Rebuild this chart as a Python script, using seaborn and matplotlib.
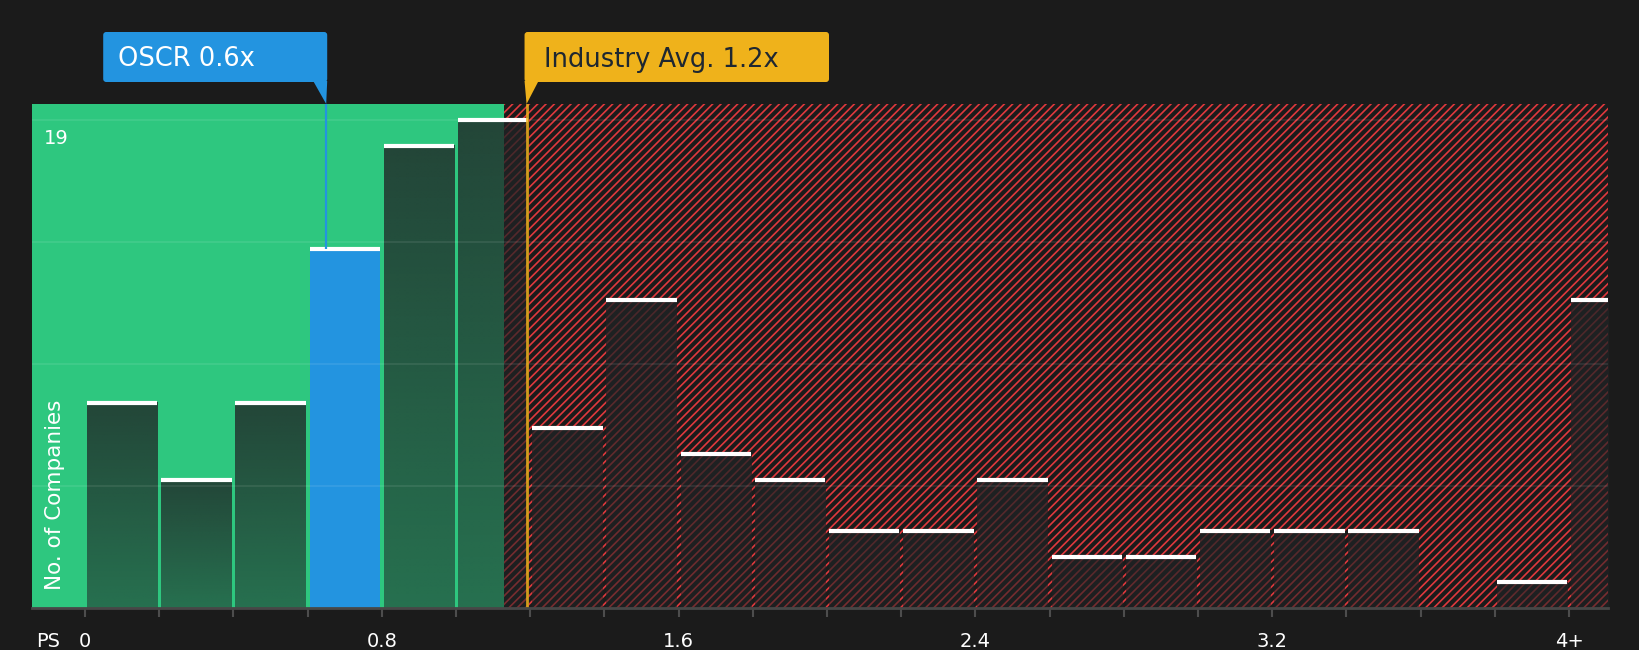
import numpy as np
import pandas as pd
import matplotlib
matplotlib.use("Agg")
import matplotlib.pyplot as plt
import seaborn as sns
from matplotlib.patches import FancyBboxPatch, Polygon
from matplotlib.transforms import IdentityTransform

# ---------------- data ----------------
bin_starts = [0.0, 0.2, 0.4, 0.6, 0.8, 1.0, 1.2, 1.4, 1.6, 1.8, 2.0,
              2.2, 2.4, 2.6, 2.8, 3.0, 3.2, 3.4, 3.6, 3.8, 4.0]
counts = [8, 5, 8, 14, 18, 19, 7, 12, 6, 5, 3, 3, 5, 2, 2, 3, 3, 3, 0, 1, 12]
bin_width = 0.2

company_name = "OSCR"
company_label = "OSCR 0.6x"
company_value = 0.65
company_bin = 0.6
industry_label = "Industry Avg. 1.2x"
industry_avg = 1.19
fair_end = 1.13

x_tick_values = [0.0, 0.8, 1.6, 2.4, 3.2, 4.0]
x_tick_labels = ["0", "0.8", "1.6", "2.4", "3.2", "4+"]
axis_name = "PS"
y_label = "No. of Companies"
y_max_label = 19
y_grid = [4.75, 9.5, 14.25, 19]

# ---------------- style ----------------
BG = "#1b1b1b"
GREEN = "#2ec77f"
RED = "#df393d"
BLUE = "#2394e0"
YELLOW = "#efb21b"
OVERLAY = np.array([32, 35, 37]) / 255.0

sns.set_style("dark", rc={"axes.facecolor": BG, "figure.facecolor": BG})
plt.rcParams["font.family"] = ["DejaVu Sans"]
plt.rcParams["hatch.linewidth"] = 1.2
plt.rcParams["hatch.color"] = RED

W, H = 1640, 650
fig = plt.figure(figsize=(W / 100, H / 100), dpi=100, facecolor=BG)
ax = fig.add_axes([32 / W, 42 / H, 1576 / W, 504 / H])
ax.set_facecolor(BG)

XMIN, XMAX = -0.143, 4.105
YMAX = 19.63

df = pd.DataFrame({"start": bin_starts, "count": counts})
df["center"] = df["start"] + bin_width / 2

sns.barplot(data=df, x="center", y="count", native_scale=True, width=0.95,
            color=BLUE, saturation=1, errorbar=None, ax=ax, zorder=2)
bar_patches = list(ax.patches)

# background regions
ax.axvspan(XMIN, fair_end, color=GREEN, lw=0, zorder=0)
ax.axvspan(fair_end, XMAX + 1, facecolor="none", edgecolor=RED, hatch="////",
           lw=0, zorder=0)

grad = np.zeros((256, 1, 4))
grad[..., :3] = OVERLAY
grad[:, 0, 3] = np.linspace(0.53, 0.79, 256)

for start, p in zip(df["start"], bar_patches):
    x0, w, h = p.get_x(), p.get_width(), p.get_height()
    p.set_edgecolor("none")
    if h <= 0:
        p.set_visible(False)
        continue
    if abs(start - company_bin) < 1e-9:
        p.set_facecolor(BLUE)
    else:
        p.set_facecolor("none")
        ax.imshow(grad, extent=[x0, x0 + w, 0, h], origin="lower",
                  aspect="auto", zorder=2, interpolation="bilinear")
    ax.hlines(h, x0, x0 + w, color="white", lw=3, zorder=4)

for gy in y_grid:
    ax.axhline(gy, color="white", alpha=0.08, lw=1.5, zorder=3)

company_count = counts[bin_starts.index(company_bin)]
ax.plot([company_value, company_value], [company_count, YMAX], color=BLUE,
        lw=1.6, zorder=5, solid_capstyle="butt")
ax.axvline(industry_avg, color=YELLOW, lw=2, alpha=0.85, zorder=5)

ax.set_xlim(XMIN, XMAX)
ax.set_ylim(0, YMAX)

# axes / ticks
for s in ["top", "left", "right"]:
    ax.spines[s].set_visible(False)
ax.spines["bottom"].set_color("#474747")
ax.spines["bottom"].set_linewidth(2)
ax.spines["bottom"].set_zorder(6)

ps_x = -0.1
ax.xaxis.remove_overlapping_locs = False
ax.set_xticks([ps_x] + x_tick_values)
ax.set_xticklabels([axis_name] + x_tick_labels)
ax.set_xticks(bin_starts, minor=True)
ax.tick_params(axis="x", which="major", length=0, pad=17.5, labelsize=14,
               labelcolor="white", bottom=True)
ax.tick_params(axis="x", which="minor", length=6.5, width=1.5,
               color="#4d4d4d", bottom=True)
ax.set_yticks([])
ax.set_xlabel("")
ax.set_ylabel("")
ax.grid(False)

ax.annotate(str(y_max_label), xy=(0, y_max_label),
            xycoords=("axes fraction", "data"), xytext=(12, -9),
            textcoords="offset pixels", ha="left", va="top",
            color="white", fontsize=14, zorder=7)
ax.annotate(y_label, xy=(0, 0), xycoords="axes fraction", xytext=(23, 18),
            textcoords="offset pixels", rotation=90, ha="center", va="bottom",
            color="white", fontsize=15.5, zorder=7)

# ---------------- callouts ----------------
ident = IdentityTransform()
px_o = ax.transData.transform((company_value, 0))[0]
px_i = ax.transData.transform((industry_avg, 0))[0]
ax_top = ax.transAxes.transform((0, 1))[1]
box_bot, box_top = H - 82, H - 32

# OSCR box
bx0, bx1 = px_o - 223, px_o + 1
fig.add_artist(FancyBboxPatch((bx0, box_bot), bx1 - bx0, box_top - box_bot,
                              boxstyle="round,pad=0,rounding_size=3",
                              fc=BLUE, ec="none", transform=ident))
fig.add_artist(Polygon([(px_o - 13, box_bot + 1), (px_o + 1, box_bot + 1),
                        (px_o, ax_top)], closed=True, fc=BLUE, ec="none",
                       transform=ident))
fig.text(bx0 + 15, H - 66, company_label, transform=ident, color="white",
         fontsize=18.5, ha="left", va="baseline")

# Industry box
ix0, ix1 = px_i - 2, 829
fig.add_artist(FancyBboxPatch((ix0, box_bot), ix1 - ix0, box_top - box_bot,
                              boxstyle="round,pad=0,rounding_size=3",
                              fc=YELLOW, ec="none", transform=ident))
fig.add_artist(Polygon([(px_i - 2, box_bot + 1), (px_i + 12, box_bot + 1),
                        (px_i, ax_top)], closed=True, fc=YELLOW, ec="none",
                       transform=ident))
fig.text(ix0 + 19, H - 67, industry_label, transform=ident, color="#1e2731",
         fontsize=18.5, ha="left", va="baseline")

fig.savefig("out.png", dpi=100, facecolor=BG)
